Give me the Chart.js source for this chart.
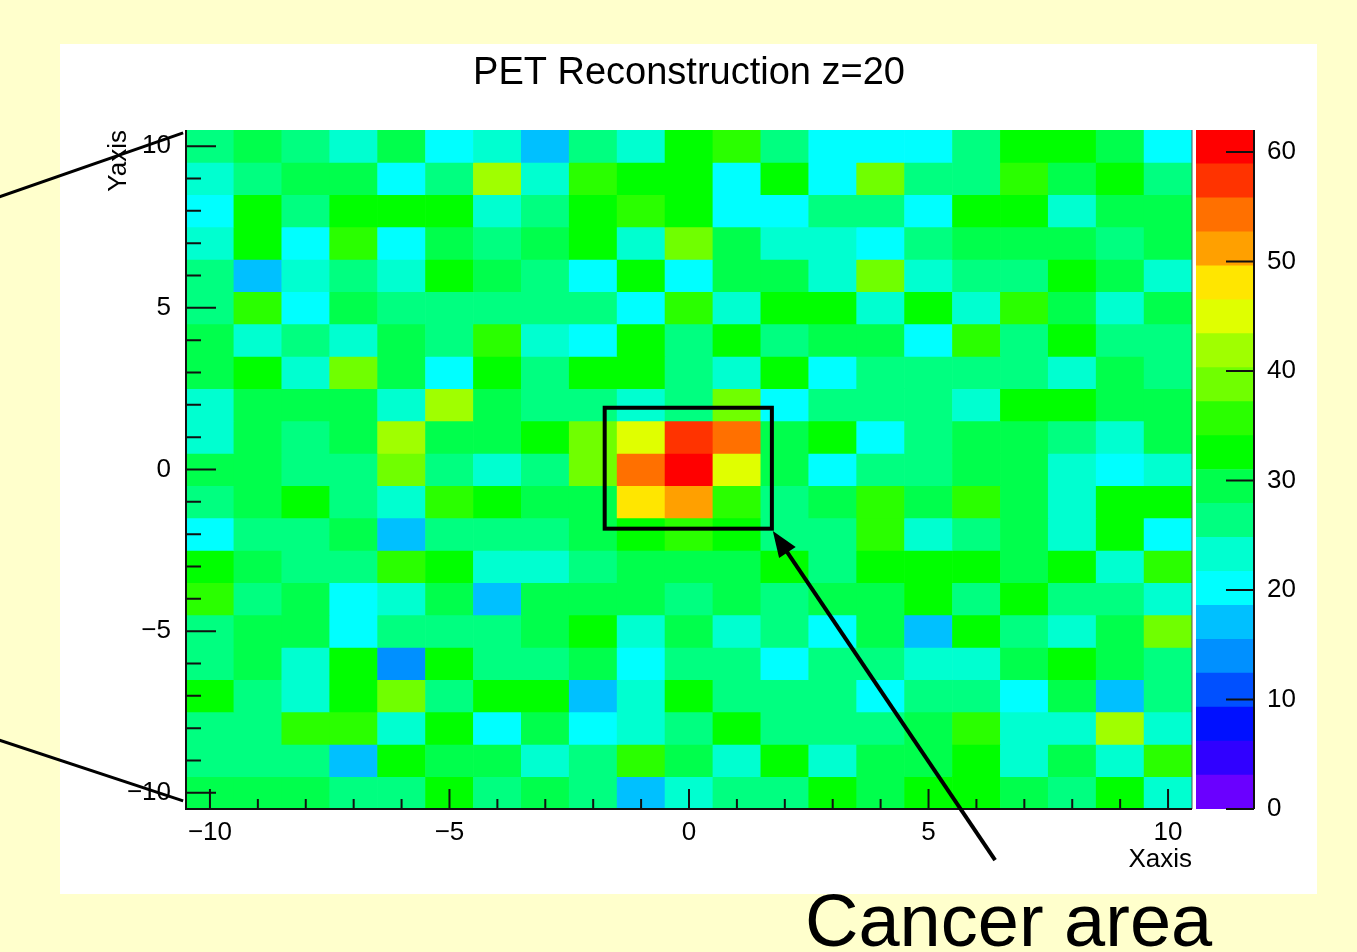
<!DOCTYPE html>
<html>
<head>
<meta charset="utf-8">
<title>PET Reconstruction z=20</title>
<script src="https://cdn.jsdelivr.net/npm/chart.js@4.4.1/dist/chart.umd.min.js"></script>
<style>
  html, body { margin: 0; padding: 0; }
  body { width: 1357px; height: 952px; background: #ffffcc; position: relative; overflow: hidden; font-family: "Liberation Sans", Arial, sans-serif; }
  #panel { position: absolute; left: 60px; top: 44px; width: 1257px; height: 850px; background: #fff; }
  #heatmap { position: absolute; left: 0; top: 0; }
  #palette { position: absolute; left: 1180px; top: 100px; }
  #label { position: absolute; left: 805px; top: 884px; font-size: 74px; line-height: 74px; color: #000; white-space: nowrap; }
</style>
</head>
<body>
<div id="panel"></div>
<canvas id="heatmap" width="1357" height="952"></canvas>
<canvas id="palette" width="160" height="760"></canvas>
<div id="label">Cancer area</div>
<script>
// bin centres of the 21 x 21 histogram
var xBins = [-10, -9, -8, -7, -6, -5, -4, -3, -2, -1, 0, 1, 2, 3, 4, 5, 6, 7, 8, 9, 10];
var yBins = [10, 9, 8, 7, 6, 5, 4, 3, 2, 1, 0, -1, -2, -3, -4, -5, -6, -7, -8, -9, -10];

// counts per bin, one row per y bin (top row first)
var counts = [
  [26, 29, 26, 23, 29, 20, 23, 17, 26, 23, 32, 35, 26, 20, 20, 20, 26, 32, 32, 29, 20],
  [23, 26, 29, 29, 20, 26, 42, 23, 35, 32, 32, 20, 32, 20, 38, 26, 26, 35, 29, 32, 26],
  [20, 32, 26, 32, 32, 32, 23, 26, 32, 35, 32, 20, 20, 26, 26, 20, 32, 32, 23, 29, 29],
  [23, 32, 20, 35, 20, 29, 26, 29, 32, 23, 38, 29, 23, 23, 20, 26, 29, 29, 29, 26, 29],
  [26, 17, 23, 26, 23, 32, 29, 26, 20, 32, 20, 29, 29, 23, 38, 23, 26, 26, 32, 29, 23],
  [26, 35, 20, 29, 26, 26, 26, 26, 26, 20, 35, 23, 32, 32, 23, 32, 23, 35, 29, 23, 29],
  [29, 23, 26, 23, 29, 26, 35, 23, 20, 32, 26, 32, 26, 29, 29, 20, 35, 26, 32, 26, 26],
  [29, 32, 23, 38, 29, 20, 32, 26, 32, 32, 26, 23, 32, 20, 26, 26, 26, 26, 23, 29, 26],
  [23, 29, 29, 29, 23, 42, 29, 26, 26, 23, 26, 38, 20, 26, 26, 26, 23, 32, 32, 29, 29],
  [23, 29, 26, 29, 42, 29, 29, 32, 38, 45, 57, 54, 29, 32, 20, 26, 29, 29, 26, 23, 29],
  [29, 29, 26, 26, 38, 26, 23, 26, 38, 54, 60, 45, 29, 20, 26, 26, 29, 29, 23, 20, 23],
  [26, 29, 32, 26, 23, 35, 32, 29, 29, 48, 51, 35, 26, 29, 35, 29, 35, 29, 23, 32, 32],
  [20, 26, 26, 29, 17, 26, 26, 26, 29, 32, 35, 32, 26, 26, 35, 23, 26, 29, 23, 32, 20],
  [32, 29, 26, 26, 35, 32, 23, 23, 26, 29, 29, 29, 32, 26, 32, 32, 32, 29, 32, 23, 35],
  [35, 26, 29, 20, 23, 29, 17, 29, 29, 29, 26, 29, 26, 29, 29, 32, 26, 32, 26, 26, 23],
  [26, 29, 29, 20, 26, 26, 26, 29, 32, 23, 29, 23, 26, 20, 29, 17, 32, 26, 23, 29, 38],
  [26, 29, 23, 32, 14, 32, 26, 26, 29, 20, 26, 26, 20, 26, 26, 23, 23, 29, 32, 29, 26],
  [32, 26, 23, 32, 38, 26, 32, 32, 17, 23, 32, 26, 26, 26, 20, 26, 26, 20, 29, 17, 26],
  [26, 26, 35, 35, 23, 32, 20, 29, 20, 23, 26, 32, 26, 26, 26, 29, 35, 23, 23, 42, 23],
  [26, 26, 26, 17, 32, 29, 29, 23, 26, 35, 29, 23, 32, 23, 29, 29, 32, 23, 29, 23, 35],
  [29, 29, 29, 26, 26, 32, 26, 29, 26, 17, 23, 26, 26, 32, 29, 32, 32, 29, 26, 32, 23]
];

// colour scale: 20 contour bands from 0 to zMax, bottom band first
var zMax = 62;
var paletteColors = ['#6a00ff', '#3000ff', '#0010ff', '#0050ff', '#0090ff',
  '#00c0ff', '#00ffff', '#00ffd0', '#00ff80', '#00ff4c',
  '#00ff00', '#2aff00', '#70ff00', '#a0ff00', '#e0ff00',
  '#ffe600', '#ffa000', '#ff7000', '#ff3300', '#ff0000'];
var zTickValues = [0, 10, 20, 30, 40, 50, 60];

// slide annotations, in axis units
var cancerBox = [-1.76, 1.73, -1.83, 1.91];
var arrowTail = [6.39, -12.08];
var arrowTip = [1.75, -1.90];
var pointerLines = [
  [[-14.4, 8.43], [-10.56, 10.41]],
  [[-14.4, -8.37], [-10.56, -10.25]]
];

var zStep = zMax / paletteColors.length;

function colorFor(v) {
  var i = Math.floor(v / zStep);
  return paletteColors[Math.max(0, Math.min(paletteColors.length - 1, i))];
}

function fmt(v) {
  return v < 0 ? '\u2212' + Math.abs(v) : String(v);
}

Chart.defaults.font.family = '"Liberation Sans", Arial, Helvetica, sans-serif';
Chart.defaults.color = '#000';

// ROOT style frame, inside ticks and the slide annotations
var rootAxes = {
  id: 'rootAxes',
  afterDraw: function (chart) {
    var ctx = chart.ctx, a = chart.chartArea, xs = chart.scales.x, ys = chart.scales.y;
    ctx.save();
    ctx.lineCap = 'butt';

    ctx.strokeStyle = '#555';
    ctx.lineWidth = 1;
    ctx.beginPath();
    ctx.moveTo(a.right, a.top);
    ctx.lineTo(a.right, a.bottom);
    ctx.stroke();

    ctx.strokeStyle = '#111';
    ctx.lineWidth = 2;
    ctx.beginPath();
    ctx.moveTo(a.left, a.top);
    ctx.lineTo(a.left, a.bottom);
    ctx.lineTo(a.right, a.bottom);
    xs.ticks.forEach(function (t) {
      var px = xs.getPixelForValue(t.value);
      var len = t.value % 5 === 0 ? 20 : 10;
      ctx.moveTo(px, a.bottom);
      ctx.lineTo(px, a.bottom - len);
    });
    ys.ticks.forEach(function (t) {
      var py = ys.getPixelForValue(t.value);
      var len = t.value % 5 === 0 ? 30 : 15;
      ctx.moveTo(a.left, py);
      ctx.lineTo(a.left + len, py);
    });
    ctx.stroke();

    // annotations
    ctx.strokeStyle = '#000';
    ctx.fillStyle = '#000';
    ctx.lineWidth = 3;
    pointerLines.forEach(function (l) {
      ctx.beginPath();
      ctx.moveTo(xs.getPixelForValue(l[0][0]), ys.getPixelForValue(l[0][1]));
      ctx.lineTo(xs.getPixelForValue(l[1][0]), ys.getPixelForValue(l[1][1]));
      ctx.stroke();
    });

    var bx0 = xs.getPixelForValue(cancerBox[0]), bx1 = xs.getPixelForValue(cancerBox[1]);
    var by0 = ys.getPixelForValue(cancerBox[2]), by1 = ys.getPixelForValue(cancerBox[3]);
    ctx.lineWidth = 4;
    ctx.strokeRect(bx0, by1, bx1 - bx0, by0 - by1);

    var tx = xs.getPixelForValue(arrowTail[0]), ty = ys.getPixelForValue(arrowTail[1]);
    var hx = xs.getPixelForValue(arrowTip[0]), hy = ys.getPixelForValue(arrowTip[1]);
    var dx = hx - tx, dy = hy - ty, d = Math.sqrt(dx * dx + dy * dy);
    var ux = dx / d, uy = dy / d, nx = -uy, ny = ux;
    var headLen = 26, headW = 10;
    ctx.beginPath();
    ctx.moveTo(tx, ty);
    ctx.lineTo(hx - ux * (headLen - 4), hy - uy * (headLen - 4));
    ctx.stroke();
    ctx.beginPath();
    ctx.moveTo(hx, hy);
    ctx.lineTo(hx - ux * headLen + nx * headW, hy - uy * headLen + ny * headW);
    ctx.lineTo(hx - ux * headLen - nx * headW, hy - uy * headLen - ny * headW);
    ctx.closePath();
    ctx.fill();
    ctx.restore();
  }
};

// one dataset per row of bins, each cell a floating bar
var rowDatasets = yBins.map(function (yc, r) {
  return {
    data: xBins.map(function (xc) { return { x: xc, y: [yc - 0.5, yc + 0.5] }; }),
    backgroundColor: counts[r].map(colorFor),
    borderWidth: 0,
    grouped: false,
    barPercentage: 1,
    categoryPercentage: 1
  };
});

new Chart(document.getElementById('heatmap'), {
  type: 'bar',
  data: { datasets: rowDatasets },
  options: {
    responsive: false,
    animation: false,
    events: [],
    layout: { padding: { left: 100, right: 165, top: 0, bottom: 77 } },
    plugins: {
      legend: { display: false },
      tooltip: { enabled: false },
      title: {
        display: true,
        text: 'PET Reconstruction z=20',
        fullSize: false,
        color: '#000',
        font: { size: 38, weight: 'normal' },
        padding: { top: 51, bottom: 33.4 }
      }
    },
    scales: {
      x: {
        type: 'linear',
        min: -10.5,
        max: 10.5,
        offset: false,
        afterBuildTicks: function (s) { s.ticks = xBins.map(function (v) { return { value: v }; }); },
        afterFit: function (s) { s.height = 66; },
        grid: { display: false },
        border: { display: false },
        ticks: {
          autoSkip: false,
          maxRotation: 0,
          padding: 0,
          font: { size: 26 },
          callback: function (v) { return v % 5 === 0 ? fmt(v) : ''; }
        },
        title: { display: true, text: 'Xaxis', align: 'end', font: { size: 26 }, padding: 0 }
      },
      y: {
        type: 'linear',
        min: -10.5,
        max: 10.5,
        afterBuildTicks: function (s) { s.ticks = yBins.map(function (v) { return { value: v }; }); },
        afterFit: function (s) { s.width = 86; },
        grid: { display: false },
        border: { display: false },
        ticks: {
          autoSkip: false,
          padding: 7,
          font: { size: 26 },
          callback: function (v) { return v % 5 === 0 ? fmt(v) : ''; }
        },
        title: { display: true, text: 'Yaxis', align: 'end', font: { size: 26 }, padding: { top: 3, bottom: 0 } }
      }
    }
  },
  plugins: [rootAxes]
});

// colour palette axis on the right
var paletteTicks = {
  id: 'paletteTicks',
  afterDraw: function (chart) {
    var ctx = chart.ctx, a = chart.chartArea, ys = chart.scales.y;
    ctx.save();
    ctx.strokeStyle = '#111';
    ctx.lineWidth = 2;
    ctx.beginPath();
    ctx.moveTo(a.right, a.top);
    ctx.lineTo(a.right, a.bottom);
    ys.ticks.forEach(function (t) {
      var py = ys.getPixelForValue(t.value);
      ctx.moveTo(a.right, py);
      ctx.lineTo(a.right - 28, py);
    });
    ctx.stroke();
    ctx.restore();
  }
};

new Chart(document.getElementById('palette'), {
  type: 'bar',
  data: {
    labels: [''],
    datasets: paletteColors.map(function (c) {
      return { data: [zStep], backgroundColor: c, borderWidth: 0, barPercentage: 1, categoryPercentage: 1 };
    })
  },
  options: {
    responsive: false,
    animation: false,
    events: [],
    layout: { padding: { left: 16, right: 16, top: 30, bottom: 51 } },
    plugins: { legend: { display: false }, tooltip: { enabled: false } },
    scales: {
      x: { display: false, stacked: true },
      y: {
        position: 'right',
        stacked: true,
        min: 0,
        max: zMax,
        afterBuildTicks: function (s) { s.ticks = zTickValues.map(function (v) { return { value: v }; }); },
        afterFit: function (s) { s.width = 70; },
        grid: { display: false },
        border: { display: false },
        ticks: { padding: 5, font: { size: 26 } }
      }
    }
  },
  plugins: [paletteTicks]
});
</script>
</body>
</html>
